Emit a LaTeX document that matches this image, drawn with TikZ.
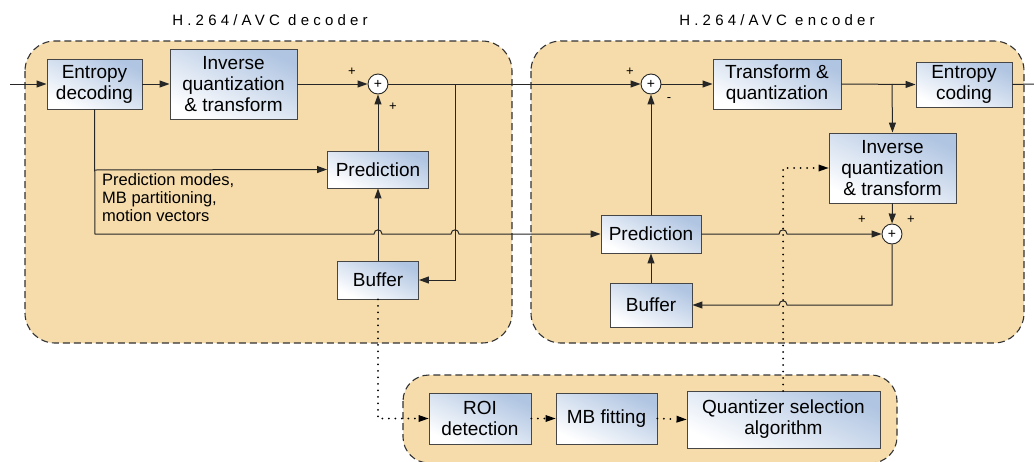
\documentclass[tikz,border=0pt]{standalone}
\usepackage{fontspec}
\setmainfont{Liberation Sans}
\usetikzlibrary{arrows.meta}
\definecolor{panelfill}{RGB}{246,220,170}
\definecolor{boxblue}{RGB}{176,197,226}
\definecolor{edgegray}{RGB}{70,70,70}
\tikzset{
  panel/.style={draw=black!80, fill=panelfill, line width=1.1pt, dash pattern=on 7pt off 4pt, rounded corners=30pt},
  blk/.style={draw=edgegray, line width=0.9pt, top color=boxblue, bottom color=white, shading angle=-25,
    align=center, inner sep=0pt, font=\fontsize{19}{21}\selectfont},
  summer/.style={circle, draw=black!85, line width=0.9pt, fill=white, minimum size=20pt, inner sep=0pt,
    font=\fontsize{14}{14}\selectfont},
  sign/.style={font=\fontsize{13}{13}\selectfont, inner sep=0pt},
  wire/.style={draw=black!85, line width=1pt},
  arr/.style={wire, -{Triangle[length=10pt,width=7pt]}},
  dotw/.style={draw=black, line width=2pt, dash pattern=on 0pt off 6.5pt, line cap=round},
  dotarr/.style={dotw, -{Triangle[length=10pt,width=7pt,line width=0pt]}},
  title/.style={font=\fontsize{15}{15}\selectfont\addfontfeature{LetterSpace=28}, inner sep=0pt}
}
\begin{document}
\begin{tikzpicture}[x=1pt, y=-1pt]
\clip (0,0) rectangle (1034,461);
\fill[white] (0,0) rectangle (1034,461);

% panels
\draw[panel] (25,41) rectangle (512,343);
\draw[panel] (531,41) rectangle (1024,343);
\draw[panel, rounded corners=26pt] (403,375) rectangle (897,463);

\node[title] (tdec) at (270,20) {H.264/AVC decoder};
\node[title] (tenc) at (777,20) {H.264/AVC encoder};

% decoder blocks
\node[blk, minimum width=95pt, minimum height=50pt] (entd) at (94.5,84) {Entropy\\decoding};
\node[blk, minimum width=127pt, minimum height=70pt] (iqd) at (233.5,84) {Inverse\\quantization\\\& transform};
\node[summer] (sumd) at (378,84) {+};
\node[blk, minimum width=101pt, minimum height=37pt] (predd) at (378,169.5) {Prediction};
\node[blk, minimum width=81pt, minimum height=38pt] (bufd) at (378,280) {Buffer};

% encoder blocks
\node[summer] (sume) at (651,84) {+};
\node[blk, minimum width=128pt, minimum height=50pt] (tq) at (777,84) {Transform \&\\quantization};
\node[blk, minimum width=96pt, minimum height=45pt] (ec) at (964,84.5) {Entropy\\coding};
\node[blk, minimum width=127pt, minimum height=70pt] (iqe) at (892.5,168) {Inverse\\quantization\\\& transform};
\node[summer] (sumr) at (892,234) {+};
\node[blk, minimum width=100pt, minimum height=38pt] (prede) at (651,234) {Prediction};
\node[blk, minimum width=82pt, minimum height=44pt] (bufe) at (651,305) {Buffer};

% ROI analysis blocks
\node[blk, minimum width=102pt, minimum height=51pt] (roi) at (480,418.5) {ROI\\detection};
\node[blk, minimum width=101pt, minimum height=51pt] (mbf) at (606.5,418.5) {MB fitting};
\node[blk, minimum width=193pt, minimum height=57pt] (qsel) at (783.5,419.5) {Quantizer selection\\algorithm};

% side information text
\node[anchor=north west, align=left, inner sep=0pt, font=\fontsize{16.5}{18}\selectfont] (side) at (102,173)
  {Prediction modes,\\MB partitioning,\\motion vectors};

% signs at the adders
\node[sign] (s1) at (352,72) {+};
\node[sign] (s2) at (393,107) {+};
\node[sign] (s3) at (630,72) {+};
\node[sign] (s4) at (669,100) {-};
\node[sign] (s5) at (862,220) {+};
\node[sign] (s6) at (911,220) {+};

% named points on the wires
\coordinate (inp) at (10,84);
\coordinate (outp) at (1034,84);
\coordinate (jd) at (455,84);
\coordinate (je) at (892,84);
\coordinate (sideb) at (95,170);

% decoder wiring
\draw[arr] (inp) -- (entd.west);
\draw[arr] (entd.east) -- (iqd.west);
\draw[arr] (iqd.east) -- (sumd.west);
\draw[arr] (predd.north) -- (sumd.south);
\draw[arr] (bufd.north) -- (predd.south);
\draw[arr] (sumd.east) -- (sume.west);
\draw[arr] (jd) |- (bufd.east);
\draw[arr] (sideb) -- (predd.west);
\draw[arr] (entd.south) -- (95,234) -- (374,234)
  .. controls (374,228.5) and (382,228.5) .. (382,234) -- (451,234)
  .. controls (451,228.5) and (459,228.5) .. (459,234) -- (prede.west);

% encoder wiring
\draw[arr] (sume.east) -- (tq.west);
\draw[arr] (tq.east) -- (ec.west);
\draw[wire] (ec.east) -- (outp);
\draw[arr] (je) -- (iqe.north);
\draw[arr] (iqe.south) -- (sumr.north);
\draw[arr] (prede.north) -- (sume.south);
\draw[arr] (bufe.north) -- (prede.south);
\draw[arr] (prede.east) -- (779,234)
  .. controls (779,228.5) and (787,228.5) .. (787,234) -- (sumr.west);
\draw[arr] (sumr.south) -- (892,305) -- (787,305)
  .. controls (787,299.5) and (779,299.5) .. (779,305) -- (bufe.east);

% dotted control paths
\draw[dotarr] (bufd.south) |- (roi.west);
\draw[dotarr] (roi.east) -- (mbf.west);
\draw[dotarr] (mbf.east) -- (qsel.west);
\draw[dotarr] (783,391) |- (iqe.west);
\end{tikzpicture}
\end{document}
